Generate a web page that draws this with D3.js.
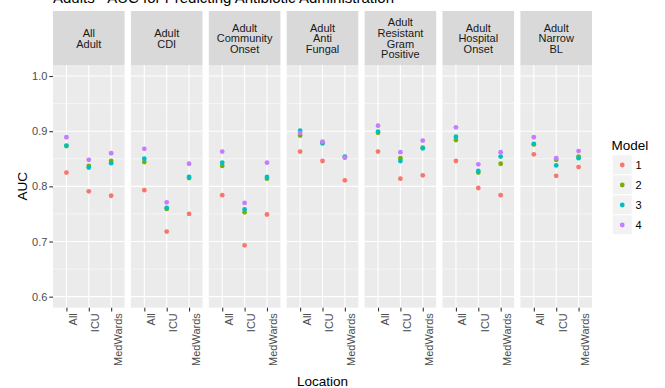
<!DOCTYPE html>
<html>
<head>
<meta charset="utf-8">
<script src="https://cdn.jsdelivr.net/npm/d3@7"></script>
<style>
  body { margin: 0; background: #fff; }
  text { font-family: "Liberation Sans", Arial, sans-serif; }
</style>
</head>
<body>
<svg id="chart" width="665" height="388"></svg>
<script>
// Facet groups (strip labels, one line per entry)
const groups = [
  ["All", "Adult"],
  ["Adult", "CDI"],
  ["Adult", "Community", "Onset"],
  ["Adult", "Anti", "Fungal"],
  ["Adult", "Resistant", "Gram", "Positive"],
  ["Adult", "Hospital", "Onset"],
  ["Adult", "Narrow", "BL"]
];
const locations = ["All", "ICU", "MedWards"];
const models = ["1", "2", "3", "4"];
const modelColors = ["#F8766D", "#7CAE00", "#00BFC4", "#C77CFF"];
const yTicks = [0.6, 0.7, 0.8, 0.9, 1.0];
const yMinor = [0.65, 0.75, 0.85, 0.95];

// AUC per model: for each group, values at All / ICU / MedWards
const auc1 = [0.825, 0.791, 0.783,  0.793, 0.718, 0.750,  0.784, 0.693, 0.749,
              0.863, 0.846, 0.811,  0.863, 0.814, 0.820,  0.846, 0.797, 0.784,
              0.858, 0.819, 0.835];
const auc2 = [0.873, 0.837, 0.846,  0.844, 0.759, 0.815,  0.837, 0.753, 0.814,
              0.892, 0.879, 0.853,  0.897, 0.851, 0.870,  0.884, 0.825, 0.841,
              0.876, 0.848, 0.854];
const auc3 = [0.874, 0.834, 0.842,  0.850, 0.761, 0.817,  0.843, 0.758, 0.817,
              0.901, 0.878, 0.854,  0.899, 0.846, 0.869,  0.890, 0.828, 0.854,
              0.877, 0.838, 0.851];
const auc4 = [0.889, 0.848, 0.860,  0.868, 0.771, 0.841,  0.863, 0.770, 0.843,
              0.897, 0.881, 0.852,  0.910, 0.862, 0.883,  0.907, 0.840, 0.862,
              0.889, 0.851, 0.864];
const aucByModel = [auc1, auc2, auc3, auc4];

const svg = d3.select("#chart");

const plotLeft = 53, plotRight = 592;
const stripTop = 11, panelTop = 65, panelBottom = 307.7;

const facetX = d3.scaleBand()
  .domain(d3.range(groups.length))
  .range([plotLeft, plotRight])
  .paddingInner(0.081)
  .paddingOuter(0);
const pw = facetX.bandwidth();

const x = d3.scalePoint().domain(locations).range([0, pw]).padding(0.6);
const y = d3.scaleLinear().domain([0.58, 1.02]).range([panelBottom, panelTop]);

// Title (sits at the very top edge)
svg.append("text")
  .attr("x", plotLeft).attr("y", 2.5)
  .attr("font-size", 15).attr("fill", "#000")
  .text("Adults - AUC for Predicting Antibiotic Administration");

const rows = [];
groups.forEach((g, gi) => {
  locations.forEach((loc, li) => {
    models.forEach((m, mi) => {
      rows.push({ group: gi, loc, model: mi, value: aucByModel[mi][gi * 3 + li] });
    });
  });
});

groups.forEach((g, gi) => {
  const gx = facetX(gi);
  const panel = svg.append("g").attr("transform", `translate(${gx},0)`);

  // strip
  panel.append("rect")
    .attr("x", 0).attr("y", stripTop)
    .attr("width", pw).attr("height", panelTop - stripTop)
    .attr("fill", "#D9D9D9");
  const mid = (stripTop + panelTop) / 2;
  const lh = 10.7;
  g.forEach((line, i) => {
    panel.append("text")
      .attr("x", pw / 2)
      .attr("y", mid + (i - (g.length - 1) / 2) * lh + 4.2)
      .attr("text-anchor", "middle")
      .attr("font-size", 11)
      .attr("fill", "#1A1A1A")
      .text(line);
  });

  // panel background
  panel.append("rect")
    .attr("x", 0).attr("y", panelTop)
    .attr("width", pw).attr("height", panelBottom - panelTop)
    .attr("fill", "#EBEBEB");

  // grid
  panel.selectAll(".minor").data(yMinor).enter().append("line")
    .attr("x1", 0).attr("x2", pw)
    .attr("y1", d => y(d)).attr("y2", d => y(d))
    .attr("stroke", "#fff").attr("stroke-width", 0.55);
  panel.selectAll(".major").data(yTicks).enter().append("line")
    .attr("x1", 0).attr("x2", pw)
    .attr("y1", d => y(d)).attr("y2", d => y(d))
    .attr("stroke", "#fff").attr("stroke-width", 1.1);
  panel.selectAll(".vmajor").data(locations).enter().append("line")
    .attr("x1", d => x(d)).attr("x2", d => x(d))
    .attr("y1", panelTop).attr("y2", panelBottom)
    .attr("stroke", "#fff").attr("stroke-width", 1.1);

  // points
  panel.selectAll("circle")
    .data(rows.filter(r => r.group === gi))
    .enter().append("circle")
    .attr("cx", d => x(d.loc))
    .attr("cy", d => y(d.value))
    .attr("r", 2.4)
    .attr("fill", d => modelColors[d.model]);

  // x axis
  const xAxis = d3.axisBottom(x).tickSize(3.7).tickSizeOuter(0).tickPadding(2);
  const xa = panel.append("g")
    .attr("transform", `translate(0,${panelBottom})`)
    .call(xAxis);
  xa.select(".domain").remove();
  xa.selectAll(".tick line").attr("stroke", "#333333").attr("stroke-width", 1.1);
  xa.selectAll(".tick text")
    .attr("font-size", 11)
    .attr("fill", "#4D4D4D")
    .attr("font-family", "Liberation Sans, Arial, sans-serif")
    .attr("text-anchor", "end")
    .attr("dy", null)
    .attr("transform", "rotate(-90)")
    .attr("x", -5.5)
    .attr("y", 10);
});

// y axis
const ya = svg.append("g")
  .attr("transform", `translate(${plotLeft},0)`)
  .call(d3.axisLeft(y).tickValues(yTicks).tickFormat(d3.format(".1f")).tickSize(3.7).tickPadding(2));
ya.select(".domain").remove();
ya.selectAll(".tick line").attr("stroke", "#333333").attr("stroke-width", 1.1);
ya.selectAll(".tick text")
  .attr("font-size", 11)
  .attr("fill", "#4D4D4D")
  .attr("font-family", "Liberation Sans, Arial, sans-serif");

// axis titles
svg.append("text")
  .attr("transform", `translate(27,${(panelTop + panelBottom) / 2}) rotate(-90)`)
  .attr("text-anchor", "middle")
  .attr("font-size", 13.5)
  .attr("fill", "#000")
  .text("AUC");
svg.append("text")
  .attr("x", (plotLeft + plotRight) / 2)
  .attr("y", 386)
  .attr("text-anchor", "middle")
  .attr("font-size", 13.5)
  .attr("fill", "#000")
  .text("Location");

// legend
const lg = svg.append("g").attr("transform", "translate(612.5,155)");
lg.append("text")
  .attr("x", -1).attr("y", -5)
  .attr("font-size", 13.5).attr("fill", "#000")
  .text("Model");
models.forEach((m, i) => {
  const k = lg.append("g").attr("transform", `translate(0,${i * 20})`);
  k.append("rect").attr("width", 19.5).attr("height", 19.5)
    .attr("fill", "#F2F2F2").attr("stroke", "#fff").attr("stroke-width", 0.5);
  k.append("circle").attr("cx", 9.75).attr("cy", 10).attr("r", 2.4)
    .attr("fill", modelColors[i]);
  k.append("text").attr("x", 23).attr("y", 14)
    .attr("font-size", 11).attr("fill", "#000")
    .text(m);
});
</script>
</body>
</html>
